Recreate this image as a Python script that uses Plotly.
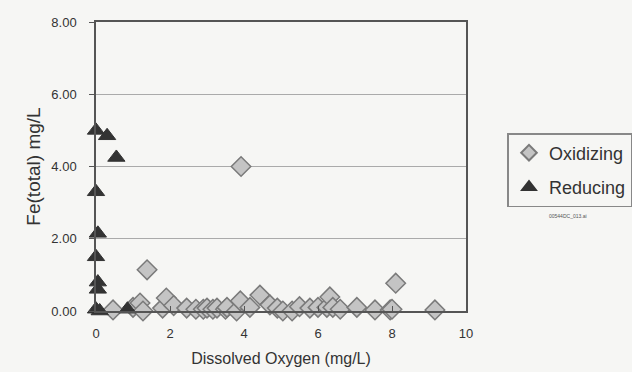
import plotly.graph_objects as go

ox_x = [0.46, 1.0, 1.19, 1.27, 1.38, 1.8, 1.9, 2.1, 2.45, 2.7, 2.9, 3.0, 3.16, 3.27, 3.5, 3.54,
        3.8, 3.9, 3.92, 4.16, 4.43, 4.7, 4.9, 5.05, 5.3, 5.5, 5.78, 6.0, 6.24, 6.32, 6.4, 6.6,
        7.05, 7.54, 7.95, 8.0, 8.1, 9.16]
ox_y = [0.03, 0.1, 0.22, 0.0, 1.14, 0.08, 0.36, 0.15, 0.08, 0.05, 0.05, 0.08, 0.05, 0.08, 0.05, 0.1,
        0.0, 0.28, 4.0, 0.1, 0.44, 0.17, 0.08, 0.0, 0.0, 0.12, 0.08, 0.1, 0.1, 0.39, 0.1, 0.05,
        0.1, 0.03, 0.03, 0.05, 0.77, 0.03]

red_x = [0.0, 0.3, 0.55, 0.0, 0.05, 0.0, 0.05, 0.05, 0.0, 0.1, 0.85]
red_y = [5.0, 4.85, 4.25, 3.3, 2.15, 1.5, 0.8, 0.6, 0.05, 0.0, 0.05]

x_ticks = [0, 2, 4, 6, 8, 10]
y_ticks = [0, 2, 4, 6, 8]
y_tick_labels = ["0.00", "2.00", "4.00", "6.00", "8.00"]

fig = go.Figure()
fig.add_trace(go.Scatter(
    x=ox_x, y=ox_y, mode="markers", name="Oxidizing", cliponaxis=False,
    legendgroup="ox",
    marker=dict(symbol="diamond", size=15, color="#c4c4c4",
                line=dict(color="#7a7a7a", width=1.5))))
fig.add_trace(go.Scatter(
    x=red_x, y=red_y, mode="markers", name="Reducing", cliponaxis=False,
    legendgroup="red",
    marker=dict(symbol="triangle-up", size=15, color="#333333",
                line=dict(color="#333333", width=1))))

fig.update_layout(
    width=632, height=372,
    margin=dict(l=96, r=166, t=22, b=61, autoexpand=False),
    paper_bgcolor="#f6f6f4", plot_bgcolor="#f6f6f4",
    font=dict(family="Liberation Sans, Arial, sans-serif", color="#333333", size=13),
    showlegend=True,
    legend=dict(xref="container", yref="container", x=0.803, y=0.543,
                xanchor="left", yanchor="middle",
                bordercolor="#888888", borderwidth=1.5, bgcolor="#f6f6f4",
                font=dict(size=18, color="#333333"), itemsizing="constant",
                itemwidth=30, tracegroupgap=8),
    xaxis=dict(range=[0, 10], tickvals=x_ticks, ticks="inside", ticklen=5,
               tickcolor="#555555", showgrid=False, zeroline=False,
               showline=True, linecolor="#555555", linewidth=1.5, mirror=True,
               ticklabelstandoff=10,
               title=dict(text="Dissolved Oxygen (mg/L)", font=dict(size=16), standoff=12),
               tickfont=dict(size=13)),
    yaxis=dict(range=[0, 8], tickvals=y_ticks, ticktext=y_tick_labels, ticks="outside",
               ticklen=5, tickcolor="#555555", showgrid=True, gridcolor="#aaaaaa",
               gridwidth=1, zeroline=False, showline=True, linecolor="#555555",
               linewidth=1.5, mirror=True, ticklabelstandoff=10,
               title=dict(text="Fe(total) mg/L", font=dict(size=19), standoff=6),
               tickfont=dict(size=13)),
)

fig.add_annotation(text="00544DC_013.ai", xref="paper", yref="paper",
                   x=1.22, y=0.33, xanchor="left", yanchor="middle",
                   showarrow=False, font=dict(size=5, color="#555555"))

fig.write_html("out.html")
